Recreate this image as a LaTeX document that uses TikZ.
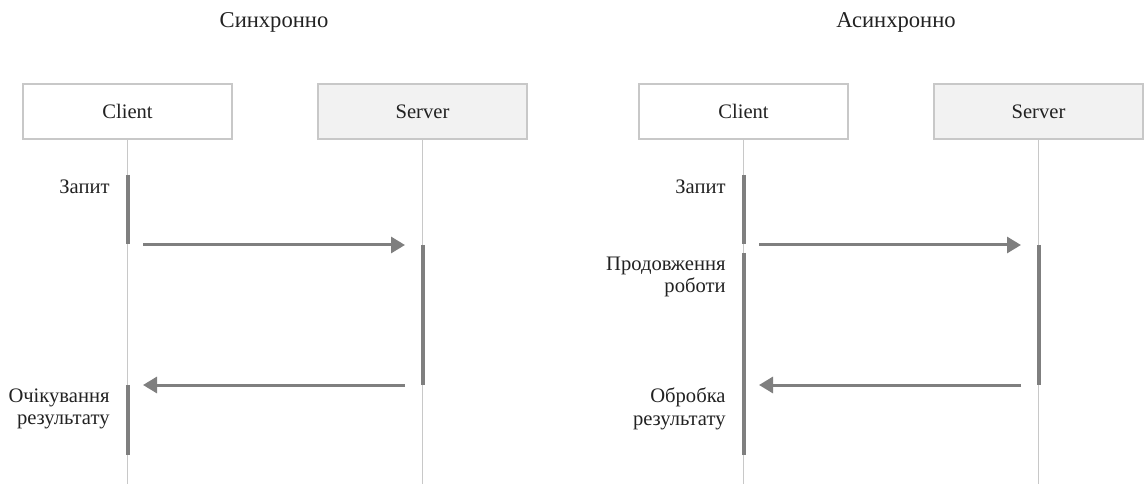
\documentclass[tikz,border=0pt]{standalone}
\usepackage{fontspec}
\setmainfont{Liberation Serif}
\usetikzlibrary{arrows.meta}
\definecolor{lineGray}{HTML}{C8C8C8}
\definecolor{barGray}{HTML}{7F7F7F}
\definecolor{boxGray}{HTML}{F2F2F2}
\definecolor{textGray}{HTML}{222222}
\begin{document}
\begin{tikzpicture}[x=0.5pt, y=-0.5pt, font=\fontsize{10.3}{11.2}\selectfont, text=textGray,
	title/.style={font=\fontsize{11.3}{12}\selectfont},
	actor/.style={draw=lineGray, line width=0.7pt, rectangle, minimum width=104.5pt, minimum height=27.5pt, inner sep=0pt},
	lifeline/.style={draw=lineGray, line width=0.75pt},
	activity/.style={draw=barGray, line width=2pt},
	message/.style={draw=barGray, line width=1.5pt, -{Triangle[length=7pt, width=8pt]}},
	note/.style={align=right, anchor=east, inner sep=0pt}]
	
	\useasboundingbox (0,0) rectangle (1146,486);
	
	%Synchronous
	\node (syncTitle) at (274,22) [title] {Синхронно};
	\node (syncClient) at (127.5,111.5) [actor, fill=white] {Client};
	\node (syncServer) at (422.5,111.5) [actor, fill=boxGray] {Server};
	\coordinate (syncClientEnd) at (127.5,484);
	\coordinate (syncServerEnd) at (422.5,484);
	\draw[lifeline] (syncClient.south) -- (syncClientEnd);
	\draw[lifeline] (syncServer.south) -- (syncServerEnd);
	
	%Activity bars
	\coordinate (sA1) at (127.5,175); \coordinate (sA2) at (127.5,244);
	\coordinate (sB1) at (422.5,245); \coordinate (sB2) at (422.5,385);
	\coordinate (sC1) at (127.5,385); \coordinate (sC2) at (127.5,455);
	\draw[activity] (sA1) -- (sA2);
	\draw[activity] (sB1) -- (sB2);
	\draw[activity] (sC1) -- (sC2);
	
	%Messages
	\coordinate (sReqFrom) at (143,245); \coordinate (sReqTo) at (405,245);
	\coordinate (sResFrom) at (405,385); \coordinate (sResTo) at (143,385);
	\draw[message] (sReqFrom) -- (sReqTo);
	\draw[message] (sResFrom) -- (sResTo);
	
	\node (syncRequest) at (110,187) [note] {Запит};
	\node (syncWait) at (110,409) [note] {Очікування\\результату};
	
	%Asynchronous
	\node (asyncTitle) at (896,22) [title] {Асинхронно};
	\node (asyncClient) at (743.5,111.5) [actor, fill=white] {Client};
	\node (asyncServer) at (1038.5,111.5) [actor, fill=boxGray] {Server};
	\coordinate (asyncClientEnd) at (743.5,484);
	\coordinate (asyncServerEnd) at (1038.5,484);
	\draw[lifeline] (asyncClient.south) -- (asyncClientEnd);
	\draw[lifeline] (asyncServer.south) -- (asyncServerEnd);
	
	%Activity bars
	\coordinate (aA1) at (743.5,175); \coordinate (aA2) at (743.5,244);
	\coordinate (aB1) at (1038.5,245); \coordinate (aB2) at (1038.5,385);
	\coordinate (aC1) at (743.5,253); \coordinate (aC2) at (743.5,455);
	\draw[activity] (aA1) -- (aA2);
	\draw[activity] (aB1) -- (aB2);
	\draw[activity] (aC1) -- (aC2);
	
	%Messages
	\coordinate (aReqFrom) at (759,245); \coordinate (aReqTo) at (1021,245);
	\coordinate (aResFrom) at (1021,385); \coordinate (aResTo) at (759,385);
	\draw[message] (aReqFrom) -- (aReqTo);
	\draw[message] (aResFrom) -- (aResTo);
	
	\node (asyncRequest) at (726,187) [note] {Запит};
	\node (asyncContinue) at (726,277) [note] {Продовження\\роботи};
	\node (asyncProcess) at (726,409) [note] {Обробка\\результату};
	
\end{tikzpicture}
\end{document}
